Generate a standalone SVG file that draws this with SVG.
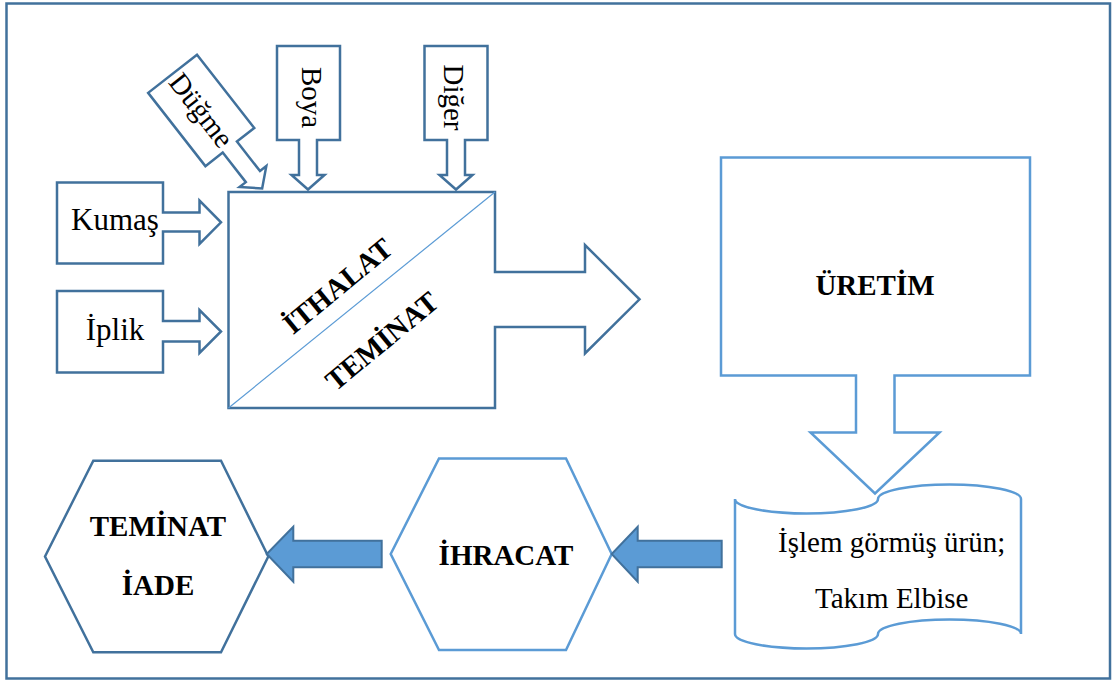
<svg xmlns="http://www.w3.org/2000/svg" width="1112" height="682" viewBox="0 0 1112 682">
<style>
.dk{fill:#fff;stroke:#41719C;stroke-width:2.5;stroke-linejoin:miter}
.lt{fill:#fff;stroke:#5B9BD5;stroke-width:2.5;stroke-linejoin:miter}
.fa{fill:#5B9BD5;stroke:#41719C;stroke-width:2}
.t{font-family:"Liberation Serif","Times New Roman",serif;fill:#000;text-anchor:middle}
.n{font-size:29px}
.b{font-size:29px;font-weight:bold}
</style>
<rect width="1112" height="682" fill="#fff"/>
<rect x="6.5" y="3.5" width="1103.5" height="675" fill="none" stroke="#41719C" stroke-width="2.5"/>

<g id="kumas">
<path class="dk" d="M57,182.5 H163 V212.5 H199.5 V200.5 L221,222.3 L199.5,244 V231.5 H163 V263.5 H57 Z"/>
<text class="t" x="115" y="229.5" font-size="31">Kumaş</text>
</g>
<g id="iplik">
<path class="dk" d="M57,291 H163 V321 H199.5 V310 L221,331.5 L199.5,353 V341.5 H163 V372.5 H57 Z"/>
<text class="t" x="115" y="340" font-size="31">İplik</text>
</g>
<g id="dugme">
<g transform="translate(201.2,110.4) rotate(52)">
<path class="dk" d="M-46.5,-31 H46.5 V-9 H84 V-17 L99,0 L84,17 V9 H46.5 V31 H-46.5 Z"/>
<text class="t n" x="0" y="9.5">Düğme</text>
</g>
</g>
<g id="boya">
<path class="dk" d="M277,46 H340 V140 H317 V175 H324.5 L308,189.5 L291.5,175 H299 V140 H277 Z"/>
<text class="t n" transform="translate(302,97.5) rotate(90)" x="0" y="0">Boya</text>
</g>
<g id="diger">
<path class="dk" d="M424.5,46 H487.5 V140 H465 V175 H472.5 L456,189.5 L439.5,175 H447 V140 H424.5 Z"/>
<text class="t n" transform="translate(444,97.5) rotate(90)" x="0" y="0">Diğer</text>
</g>

<g id="ithalat-teminat">
<path class="dk" d="M228.5,192 H495 V272 H585 V245 L639.5,299.3 L585,353.5 V327 H495 V408 H228.5 Z"/>
<line x1="228.5" y1="408" x2="495" y2="192" stroke="#5B9BD5" stroke-width="1.2"/>
<text class="t b" transform="translate(337.5,285.8) rotate(-39.5)" x="0" y="10">İTHALAT</text>
<text class="t b" transform="translate(381.7,340.8) rotate(-39.5)" x="0" y="10">TEMİNAT</text>
</g>

<g id="uretim">
<path class="lt" d="M721,157.5 H1030 V375.5 H894.5 V432.5 H939.5 L875,493.5 L810.5,432.5 H856 V375.5 H721 Z"/>
<text class="t b" x="875" y="295">ÜRETİM</text>
</g>

<g id="urun">
<path class="lt" d="M735,499 A71.5,14.5 0 0 0 878,499 A71.5,14.5 0 0 1 1021,499 V634 A71.5,14.5 0 0 0 878,634 A71.5,14.5 0 0 1 735,634 Z"/>
<text class="t n" x="891.7" y="551.7">İşlem görmüş ürün;</text>
<text class="t n" x="891.7" y="607.7">Takım Elbise</text>
</g>

<g id="ihracat">
<polygon class="lt" points="390.7,554 439,458.5 566,458.5 611.7,554 566,650 439,650"/>
<text class="t b" x="506" y="565">İHRACAT</text>
</g>

<g id="teminat-iade">
<polygon class="dk" points="45,556.5 93.3,460.7 221,460.7 268.3,556.5 221,652.3 93.3,652.3"/>
<text class="t b" x="158" y="536">TEMİNAT</text>
<text class="t b" x="158" y="595">İADE</text>
</g>

<g id="connectors">
<path class="fa" d="M721.7,540.7 V567.3 H637.7 V581.7 L611.7,554 L637.7,526.7 V540.7 Z"/>
<path class="fa" d="M381.7,540.7 V567.3 H293.3 V581.7 L266.7,554 L293.3,526.7 V540.7 Z"/>
</g>
</svg>
